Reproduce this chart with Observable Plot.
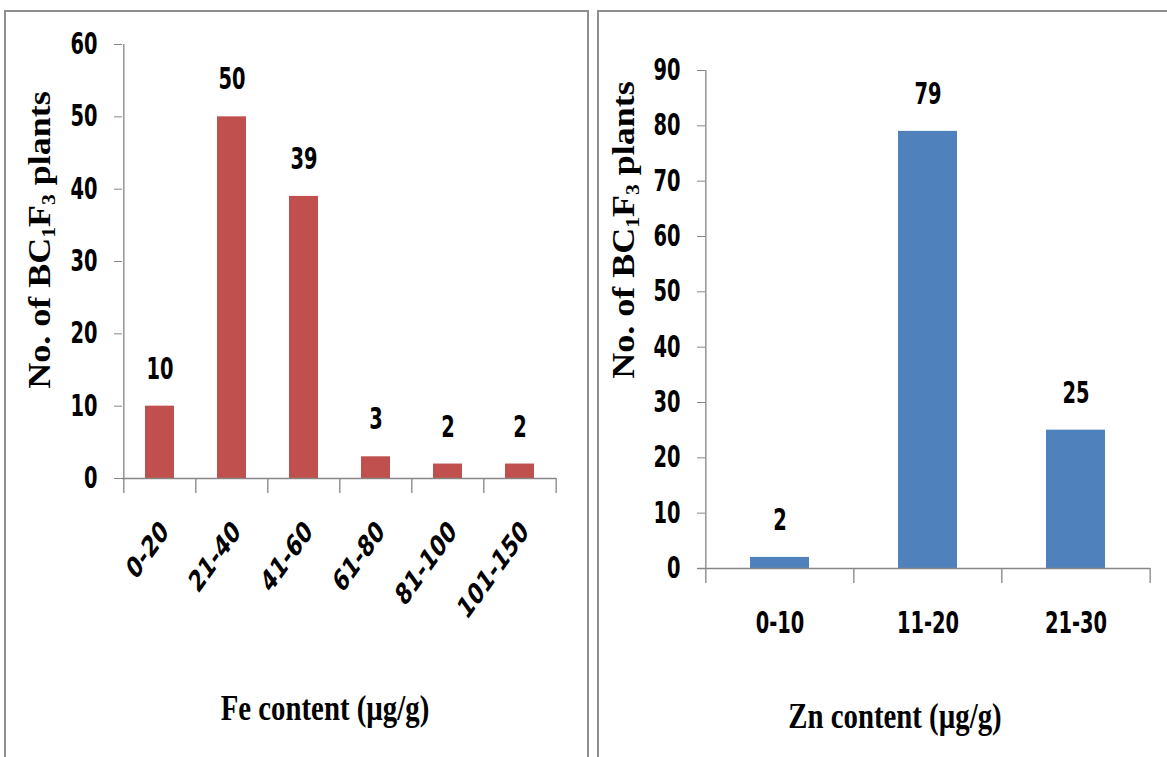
<!DOCTYPE html>
<html><head><meta charset="utf-8">
<script src="https://cdn.jsdelivr.net/npm/d3@7"></script>
<script src="https://cdn.jsdelivr.net/npm/@observablehq/plot@0.6"></script>
<style>
body{margin:0;background:#fff;}
#wrap{position:relative;width:1167px;height:757px;overflow:hidden;background:#fff;}
.panel{position:absolute;border:2px solid #8e8e8e;box-sizing:border-box;}
.chart{position:absolute;top:0;}
.lab{position:absolute;font-family:"Liberation Serif","Times New Roman",serif;font-weight:bold;font-size:36px;white-space:nowrap;color:#000;line-height:1;}
.lab sub{font-size:60%;vertical-align:baseline;position:relative;top:0.3em;}
</style></head>
<body>
<div id="wrap">
  <div class="panel" style="left:4px;top:10px;width:585px;height:800px;"></div>
  <div class="panel" style="left:597px;top:10px;width:600px;height:800px;"></div>
  <div id="left" class="chart" style="left:0px;"></div>
  <div id="right" class="chart" style="left:590px;"></div>
  <div class="lab" style="left:40px;top:240px;transform:translate(-50%,-50%) rotate(-90deg) scale(1,0.85);">No. of BC<sub>1</sub>F<sub>3</sub> plants</div>
  <div class="lab" style="left:624px;top:230px;transform:translate(-50%,-50%) rotate(-90deg) scale(1,0.85);">No. of BC<sub>1</sub>F<sub>3</sub> plants</div>
  <div class="lab" style="left:325px;top:708px;transform:translate(-50%,-50%) scale(0.8,1);">Fe content (µg/g)</div>
  <div class="lab" style="left:895px;top:716px;transform:translate(-50%,-50%) scale(0.8,1);">Zn content (µg/g)</div>
</div>
<script>
const feCategories = ["0-20", "21-40", "41-60", "61-80", "81-100", "101-150"];
const feCounts = [10, 50, 39, 3, 2, 2];
const feTicks = [0, 10, 20, 30, 40, 50, 60];

const znCategories = ["0-10", "11-20", "21-30"];
const znCounts = [2, 79, 25];
const znTicks = [0, 10, 20, 30, 40, 50, 60, 70, 80, 90];

const numFont = '"Liberation Sans Narrow","DejaVu Sans Condensed","Arial Narrow",sans-serif';
const axisGray = "#868686";
const squeeze = 0.72;
const fs = 30;

function makeChart({cats, counts, ticks, color, width, height, ml, mr, mt, mb, rotate, xInsetLeft}) {
  const data = cats.map((c, i) => ({cat: c, n: counts[i]}));
  const step = (width - ml - mr) / cats.length;
  const yMax = ticks[ticks.length - 1];
  const xAxis = rotate
    ? Plot.axisX({label: null, tickSize: 0, tickRotate: -45, tickPadding: 48, dx: 5, fontSize: fs, fontWeight: "bold", fill: "#000"})
    : Plot.axisX({label: null, tickSize: 0, tickPadding: 43, fontSize: fs, fontWeight: "bold", fill: "#000"});
  const svg = Plot.plot({
    width, height,
    marginLeft: ml, marginRight: mr, marginTop: mt, marginBottom: mb,
    style: {fontFamily: numFont, background: "transparent"},
    x: {domain: cats, paddingInner: 0.6, paddingOuter: 0.3, axis: null},
    y: {domain: [0, yMax], axis: null},
    marks: [
      Plot.barY(data, {x: "cat", y: "n", fill: color}),
      Plot.ruleY([0], {stroke: axisGray, strokeWidth: 1.3, insetLeft: xInsetLeft}),
      Plot.ruleX(cats, {x: d => d, dx: -step / 2, y1: 0, y2: 0, insetBottom: -15, stroke: axisGray, strokeWidth: 1.3}),
      Plot.ruleX([cats[cats.length - 1]], {x: d => d, dx: step / 2, y1: 0, y2: 0, insetBottom: -15, stroke: axisGray, strokeWidth: 1.3}),
      Plot.ruleX([cats[0]], {x: d => d, dx: -step / 2, y1: 0, y2: yMax, stroke: axisGray, strokeWidth: 1.3}),
      Plot.axisY({label: null, ticks, tickSize: 8, tickPadding: 17, fontSize: fs, fontWeight: "bold", stroke: axisGray, fill: "#000"}),
      xAxis,
      Plot.text(data, {x: "cat", y: "n", text: d => String(d.n), dy: -37, fontSize: fs, fontWeight: "bold", fill: "#000"})
    ]
  });
  // horizontally condense numeric text around its anchor (narrow-font look)
  svg.querySelectorAll("text").forEach(t => {
    const tr = t.getAttribute("transform");
    if (tr && /translate\(/.test(tr)) {
      t.setAttribute("transform", tr.replace(/(translate\([^)]*\))/, `$1 scale(${squeeze},1)`));
    } else {
      const x = +(t.getAttribute("x") || 0);
      t.setAttribute("transform", `translate(${x},0) scale(${squeeze},1) translate(${-x},0)` + (tr ? " " + tr : ""));
    }
  });
  return svg;
}

document.getElementById("left").append(makeChart({
  cats: feCategories, counts: feCounts, ticks: feTicks, color: "#C0504D",
  width: 590, height: 757, ml: 122, mr: 34, mt: 44, mb: 279, rotate: true, xInsetLeft: 0
}));
document.getElementById("right").append(makeChart({
  cats: znCategories, counts: znCounts, ticks: znTicks, color: "#4F81BD",
  width: 577, height: 757, ml: 115, mr: 17, mt: 70, mb: 189, rotate: false, xInsetLeft: -7
}));
</script>
</body></html>
